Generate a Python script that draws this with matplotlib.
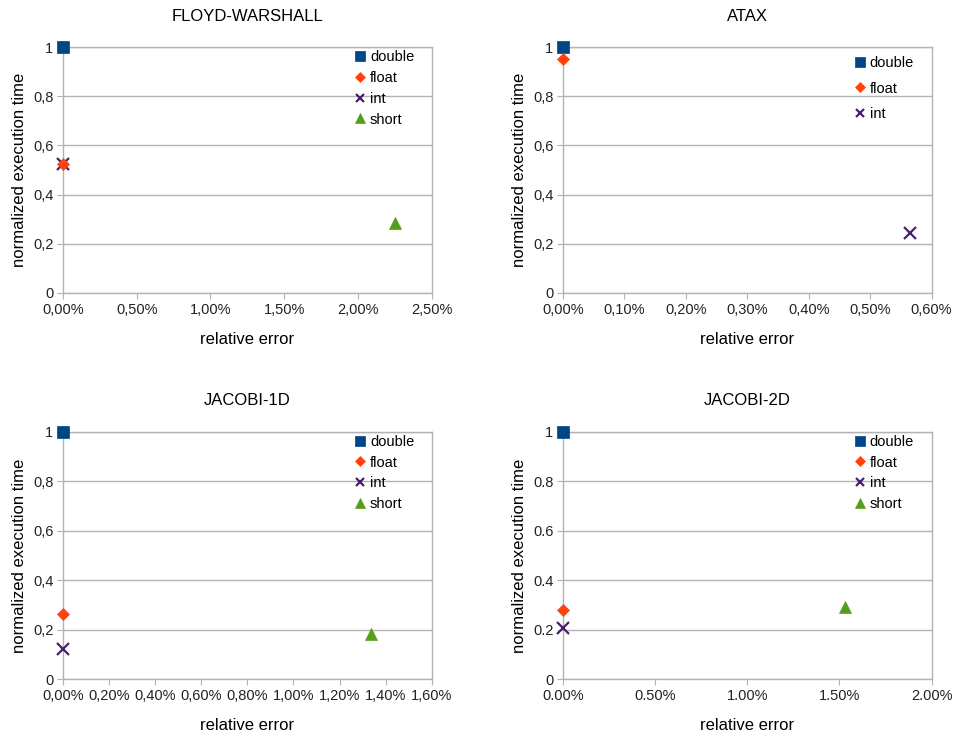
import matplotlib
matplotlib.use("Agg")
import matplotlib.pyplot as plt
from matplotlib.ticker import FuncFormatter, MultipleLocator

plt.rcParams.update({
    "font.family": ["Liberation Sans", "DejaVu Sans"],
    "font.size": 10.5,
})

# -- data: relative error in %, normalized execution time --
types = ["double", "float", "int", "short"]

floyd_err = [0.0, 0.0, 0.0, 2.25]
floyd_time = [1.0, 0.525, 0.525, 0.285]

atax_err = [0.0, 0.0, 0.565]
atax_time = [1.0, 0.95, 0.245]

jac1_err = [0.0, 0.0, 0.0, 1.335]
jac1_time = [1.0, 0.263, 0.12, 0.183]

jac2_err = [0.0, 0.0, 0.0, 1.53]
jac2_time = [1.0, 0.28, 0.208, 0.29]

# -- style --
COLORS = {"double": "#004586", "float": "#ff420e", "int": "#4b1f6f", "short": "#579d1c"}
MARKERS = {"double": "s", "float": "D", "int": "x", "short": "^"}
SIZES = {"double": 9, "float": 6.5, "int": 8, "short": 8.5}
ZORD = {"double": 4, "float": 5, "int": 3, "short": 3}
GRID = "#b3b3b3"

fig = plt.figure(figsize=(9.55, 7.36), dpi=100)

# title, x, y, xmax, xstep, decimal sep, axes rect, legend spacing, legend top
panels = [
    ("FLOYD-WARSHALL", floyd_err, floyd_time, 2.5, 0.5, ",", [0.066, 0.602, 0.386, 0.334], 0.47, 1.0),
    ("ATAX", atax_err, atax_time, 0.6, 0.1, ",", [0.5895, 0.602, 0.386, 0.334], 0.8, 0.976),
    ("JACOBI-1D", jac1_err, jac1_time, 1.6, 0.2, ",", [0.066, 0.0774, 0.386, 0.336], 0.47, 1.0),
    ("JACOBI-2D", jac2_err, jac2_time, 2.0, 0.5, ".", [0.5895, 0.0774, 0.386, 0.336], 0.47, 1.0),
]

for title, errs, times, xmax, xstep, sep, rect, lspace, ltop in panels:
    ax = fig.add_axes(rect)
    for name, e, t in zip(types, errs, times):
        ax.plot([e], [t], linestyle="none", marker=MARKERS[name],
                color=COLORS[name], markersize=SIZES[name],
                markeredgewidth=1.6 if name == "int" else 0.5,
                label=name, clip_on=False, zorder=ZORD[name])

    ax.set_xlim(0, xmax)
    ax.set_ylim(0, 1)
    ax.xaxis.set_major_locator(MultipleLocator(xstep))
    ax.yaxis.set_major_locator(MultipleLocator(0.2))
    ax.xaxis.set_major_formatter(FuncFormatter(
        lambda v, p, s=sep: f"{v:.2f}%".replace(".", s)))
    ax.yaxis.set_major_formatter(FuncFormatter(
        lambda v, p, s=sep: f"{round(v, 1):g}".replace(".", s)))

    ax.grid(axis="y", color=GRID, linewidth=1)
    ax.set_axisbelow(True)
    for sp in ax.spines.values():
        sp.set_color(GRID)
        sp.set_linewidth(1)
    ax.tick_params(axis="both", direction="out", length=4, color=GRID,
                   labelsize=10.5, labelcolor="#222222", pad=3)

    ax.set_title(title, fontsize=12, pad=19)
    ax.set_xlabel("relative error", fontsize=12, labelpad=11)
    ax.set_ylabel("normalized execution time", fontsize=12, labelpad=4)

    ax.legend(loc="upper left", bbox_to_anchor=(0.779, ltop), frameon=False,
              handlelength=0.9, handletextpad=0.25, labelspacing=lspace,
              borderaxespad=0.0, borderpad=0.2, fontsize=10.5, markerscale=0.8)

fig.savefig("out.png", dpi=100)
